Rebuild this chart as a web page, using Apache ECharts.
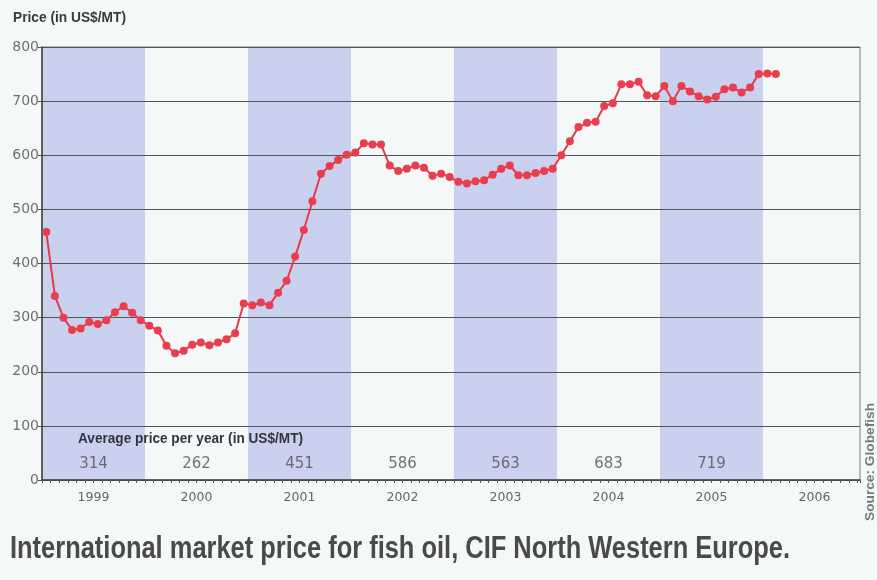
<!DOCTYPE html>
<html>
<head>
<meta charset="utf-8">
<script src="https://cdn.jsdelivr.net/npm/echarts@6/dist/echarts.min.js"></script>
<style>
html,body{margin:0;padding:0;background:#f5f8f8;}
#c{width:877px;height:580px;}
</style>
</head>
<body>
<div id="c"></div>
<script>
// ---- data ----
const years = ['1999','2000','2001','2002','2003','2004','2005','2006'];
const avgPrices = [314, 262, 451, 586, 563, 683, 719];
const price1999 = [458,340,300,277,280,292,288,295,310,321,309,295];
const price2000 = [285,276,248,234,239,250,254,249,254,260,271,326];
const price2001 = [323,328,323,346,368,413,462,515,566,580,591,601];
const price2002 = [605,622,620,620,581,571,575,581,577,562,566,560];
const price2003 = [551,548,552,554,564,575,581,563,563,567,571,575];
const price2004 = [600,626,652,660,662,691,696,731,731,736,711,709];
const price2005 = [728,700,728,718,709,703,708,722,725,716,725,750];
const price2006 = [751,750];
const shadedYears = ['1999','2001','2003','2005'];
const yTicks = [0,100,200,300,400,500,600,700,800];

// ---- build ----
const monthly = [].concat(price1999,price2000,price2001,price2002,price2003,price2004,price2005,price2006);
const lineData = monthly.map((v,i)=>[i+0.5, v]);
const bandData = shadedYears.map(y=>[years.indexOf(y)*12, 0]);
const avgData = avgPrices.map((v,i)=>[i*12+6, 30]);

const ctx = document.createElement('canvas').getContext('2d');
function fitScale(text, font, width){ ctx.font = font; return width / ctx.measureText(text).width; }

const titleText = 'International market price for fish oil, CIF North Western Europe.';
const titleFont = 'bold 31px "Liberation Sans"';
const yTitleText = 'Price (in US$/MT)';
const yTitleFont = 'bold 14px "Liberation Sans"';
const avgTitleText = 'Average price per year (in US$/MT)';
const avgTitleFont = 'bold 14px "Liberation Sans"';
const srcText = 'Source: Globefish';
const srcFont = 'bold 12px "Liberation Sans"';

const chart = echarts.init(document.getElementById('c'), null, {renderer:'canvas'});
chart.setOption({
  backgroundColor:'#f5f8f8',
  animation:false,
  grid:{left:42,right:17,top:47,bottom:100,show:true,borderColor:'#7a7a7a',borderWidth:1,backgroundColor:'transparent'},
  xAxis:{
    type:'value',min:0,max:95.3,interval:1,
    axisLine:{show:true,lineStyle:{color:'#444',width:1.5}},
    axisTick:{show:true,length:3,lineStyle:{color:'#555'}},
    splitLine:{show:false},
    axisLabel:{
      color:'#666',fontSize:12.5,fontFamily:'DejaVu Sans',margin:11,
      formatter:function(v){ return (Math.round(v)===v && v%12===6) ? years[(v-6)/12] : ''; }
    }
  },
  yAxis:{
    type:'value',min:yTicks[0],max:yTicks[yTicks.length-1],interval:100,
    axisLine:{show:true,lineStyle:{color:'#444',width:1.5}},
    axisTick:{show:true,length:4,lineStyle:{color:'#555'}},
    splitLine:{show:true,lineStyle:{color:'#555',width:1}},
    axisLabel:{color:'#707070',fontSize:14,fontFamily:'DejaVu Sans',margin:3}
  },
  graphic:[
    {type:'text',x:13,y:11,scaleX:fitScale(yTitleText,yTitleFont,113),style:{text:yTitleText,font:yTitleFont,fill:'#3a3a3a'}},
    {type:'text',x:78,y:432,z:10,scaleX:fitScale(avgTitleText,avgTitleFont,225),style:{text:avgTitleText,font:avgTitleFont,fill:'#2f3440'}},
    {type:'text',x:10,y:534,scaleX:fitScale(titleText,titleFont,780),style:{text:titleText,font:titleFont,fill:'#4a4a4a'}},
    {type:'text',x:871,y:462,rotation:Math.PI/2,scaleX:fitScale(srcText,srcFont,118),style:{text:srcText,font:srcFont,fill:'#7a7a7a',align:'center',verticalAlign:'middle'}}
  ],
  series:[
    {
      type:'custom',z:-1,silent:true,
      data:bandData,
      renderItem:function(params,api){
        const s = api.value(0);
        const p0 = api.coord([s,800]);
        const p1 = api.coord([s+12,0]);
        return {type:'rect',shape:{x:p0[0],y:p0[1],width:p1[0]-p0[0],height:p1[1]-p0[1]},style:{fill:'#cad1ef'}};
      }
    },
    {
      type:'line',data:lineData,z:5,
      symbol:'circle',symbolSize:8,
      lineStyle:{color:'#e8384a',width:2},
      itemStyle:{color:'#ea3d4e'}
    },
    {
      type:'scatter',data:avgData,symbolSize:0,z:6,silent:true,
      label:{show:true,position:'inside',color:'#505050',fontSize:15,fontFamily:'DejaVu Sans',
        formatter:function(p){ return String(avgPrices[p.dataIndex]); }}
    }
  ]
});
</script>
</body>
</html>
